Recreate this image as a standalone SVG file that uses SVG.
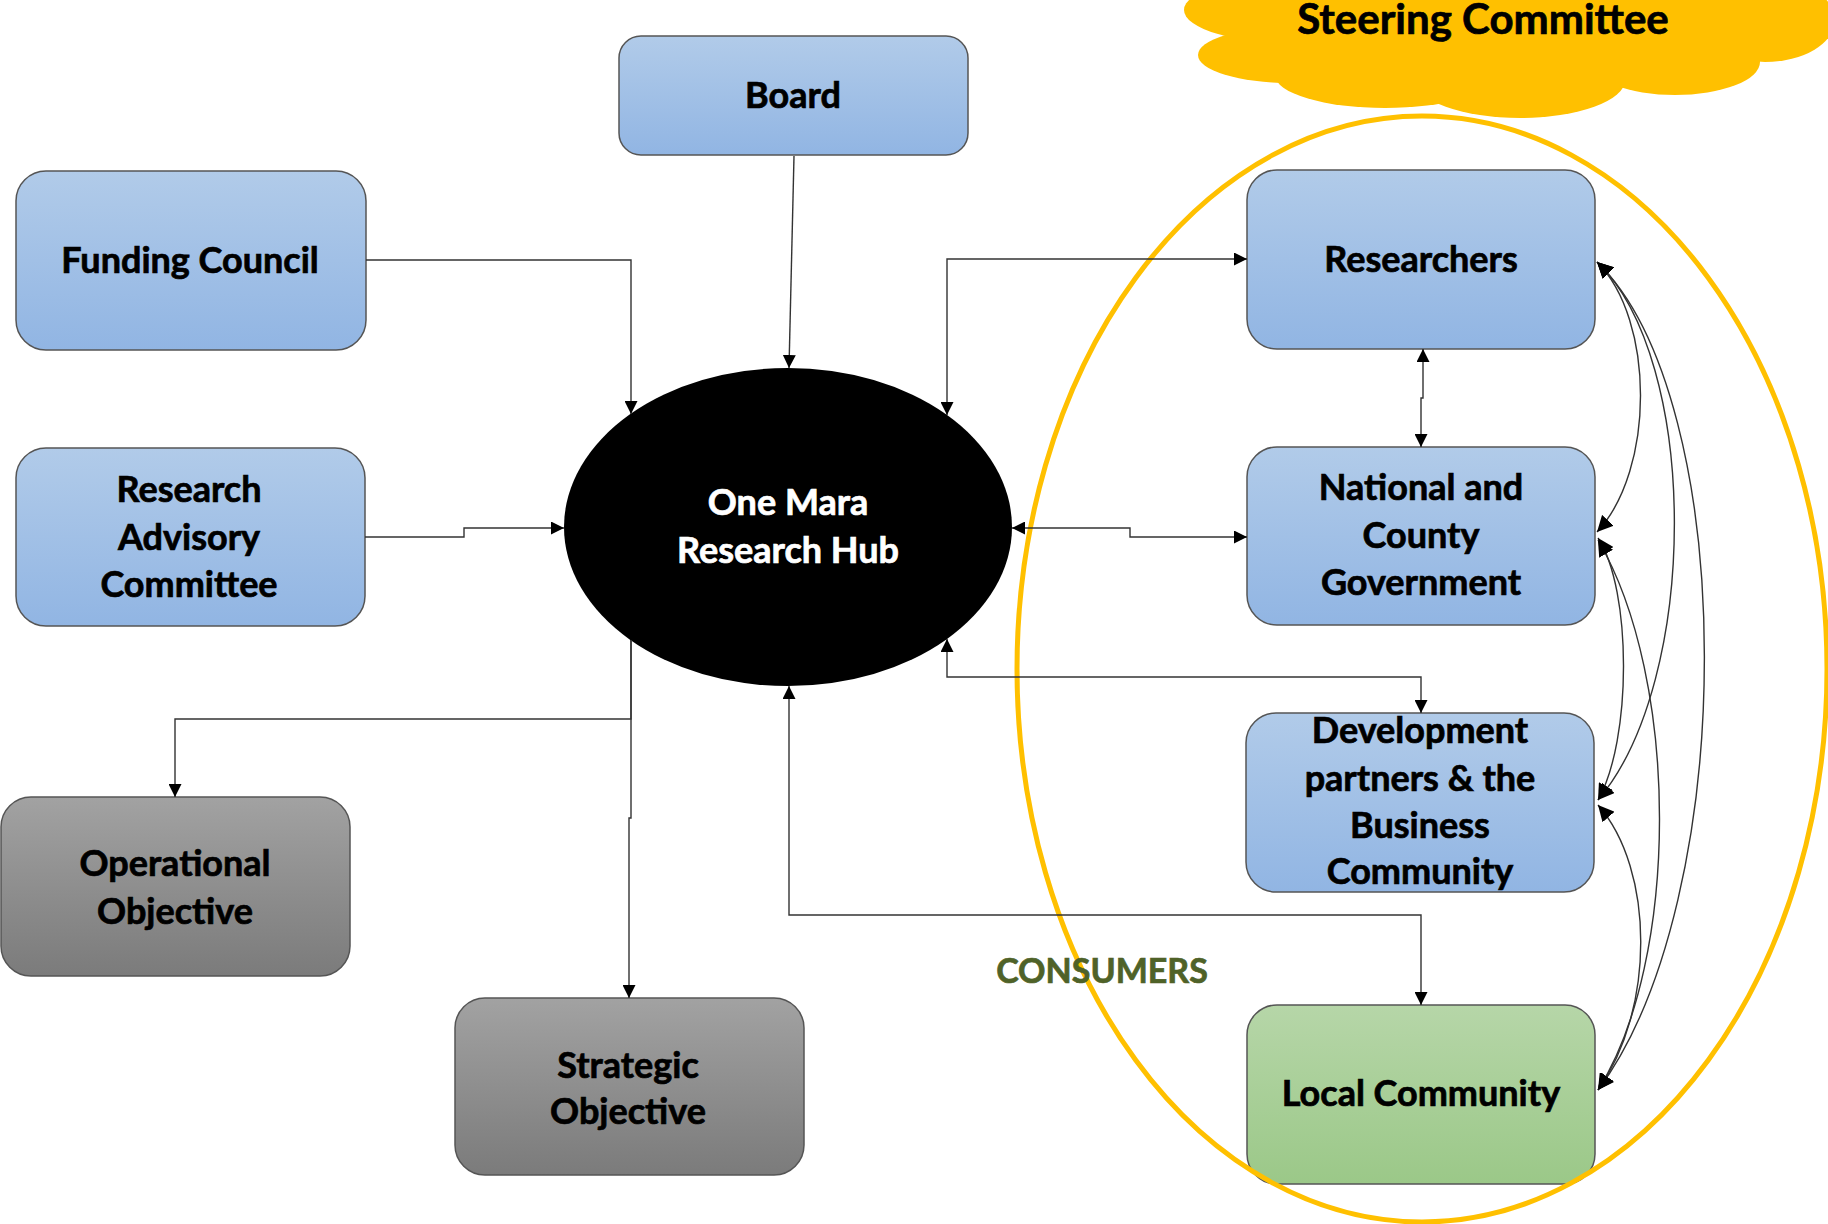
<svg xmlns="http://www.w3.org/2000/svg" width="1828" height="1224" viewBox="0 0 1828 1224">
<defs>
<linearGradient id="gBlue" x1="0" y1="0" x2="0" y2="1">
<stop offset="0" stop-color="#B1CBE9"/>
<stop offset="1" stop-color="#91B5E3"/>
</linearGradient>
<linearGradient id="gGray" x1="0" y1="0" x2="0" y2="1">
<stop offset="0" stop-color="#A2A2A2"/>
<stop offset="1" stop-color="#7B7B7B"/>
</linearGradient>
<linearGradient id="gGreen" x1="0" y1="0" x2="0" y2="1">
<stop offset="0" stop-color="#B6D6A8"/>
<stop offset="1" stop-color="#9BC888"/>
</linearGradient>
<marker id="arr" viewBox="0 0 12 12" refX="12" refY="6" markerWidth="13" markerHeight="13" markerUnits="userSpaceOnUse" orient="auto-start-reverse">
<path d="M0,0 L12,6 L0,12 z" fill="#000"/>
</marker>
<marker id="arrL" viewBox="0 0 12 12" refX="12" refY="6" markerWidth="16" markerHeight="16" markerUnits="userSpaceOnUse" orient="auto-start-reverse">
<path d="M0,0 L12,6 L0,12 z" fill="#000"/>
</marker>
<style>
.box{stroke:#555;stroke-width:1.5}
.blue{fill:url(#gBlue)}
.gray{fill:url(#gGray)}
.green{fill:url(#gGreen)}
.lbl{font-family:Lato,"Open Sans","Liberation Sans",sans-serif;font-weight:700;font-size:36px;text-anchor:middle;fill:#000;stroke:#000;stroke-width:0.7}
.white{fill:#fff;stroke:#fff}
.con{fill:none;stroke:#333;stroke-width:1.4}
.cloud{fill:#FFC000}
</style>
</defs>
<rect width="1828" height="1224" fill="#fff"/>

<g id="steering-committee">
<g class="cloud">
<ellipse cx="1300" cy="10" rx="116" ry="34"/>
<ellipse cx="1290" cy="55" rx="92" ry="28"/>
<ellipse cx="1385" cy="75" rx="110" ry="33"/>
<ellipse cx="1520" cy="80" rx="105" ry="38"/>
<ellipse cx="1675" cy="62" rx="85" ry="33"/>
<ellipse cx="1765" cy="20" rx="70" ry="42"/>
<ellipse cx="1500" cy="20" rx="280" ry="60"/>
</g>
<text class="lbl" x="1483" y="34" style="font-size:42px">Steering Committee</text>
</g>

<g id="board">
<rect class="box blue" x="619" y="36" width="349" height="119" rx="22"/>
<text class="lbl" x="793" y="108">Board</text>
</g>

<g id="funding-council">
<rect class="box blue" x="16" y="171" width="350" height="179" rx="30"/>
<text class="lbl" x="190" y="273">Funding Council</text>
</g>

<g id="research-advisory-committee">
<rect class="box blue" x="16" y="448" width="349" height="178" rx="30"/>
<text class="lbl" x="189" y="502">Research</text>
<text class="lbl" x="189" y="550">Advisory</text>
<text class="lbl" x="189" y="597">Committee</text>
</g>

<g id="operational-objective">
<rect class="box gray" x="1" y="797" width="349" height="179" rx="30"/>
<text class="lbl" x="175" y="876">Operational</text>
<text class="lbl" x="175" y="924">Objective</text>
</g>

<g id="strategic-objective">
<rect class="box gray" x="455" y="998" width="349" height="177" rx="30"/>
<text class="lbl" x="628" y="1078">Strategic</text>
<text class="lbl" x="628" y="1124">Objective</text>
</g>

<g id="one-mara-research-hub">
<ellipse cx="788" cy="527" rx="224" ry="159" fill="#000"/>
<text class="lbl white" x="788" y="515">One Mara</text>
<text class="lbl white" x="788" y="563">Research Hub</text>
</g>

<g id="researchers">
<rect class="box blue" x="1247" y="170" width="348" height="179" rx="30"/>
<text class="lbl" x="1421" y="272">Researchers</text>
</g>

<g id="national-county-government">
<rect class="box blue" x="1247" y="447" width="348" height="178" rx="30"/>
<text class="lbl" x="1421" y="500">National and</text>
<text class="lbl" x="1421" y="548">County</text>
<text class="lbl" x="1421" y="595">Government</text>
</g>

<g id="development-partners">
<rect class="box blue" x="1246" y="713" width="348" height="179" rx="30"/>
<text class="lbl" x="1420" y="743">Development</text>
<text class="lbl" x="1420" y="791">partners &amp; the</text>
<text class="lbl" x="1420" y="838">Business</text>
<text class="lbl" x="1420" y="884">Community</text>
</g>

<g id="local-community">
<rect class="box green" x="1247" y="1005" width="348" height="179" rx="30"/>
<text class="lbl" x="1421" y="1106">Local Community</text>
</g>

<g id="consumers">
<ellipse cx="1422" cy="669" rx="405" ry="553" fill="none" stroke="#FFC000" stroke-width="5"/>
<text class="lbl" x="1102" y="983" style="font-size:34px;fill:#4F6228;stroke:#4F6228">CONSUMERS</text>
</g>

<g id="connectors">
<path class="con" d="M794,156 L789,368" marker-end="url(#arr)"/>
<path class="con" d="M366,260 H631 V414" marker-end="url(#arr)"/>
<path class="con" d="M365,537 H464 V528 H564" marker-end="url(#arr)"/>
<path class="con" d="M631,640 V719 H175 V797" marker-end="url(#arr)"/>
<path class="con" d="M631,640 V818 H629 V998" marker-end="url(#arr)"/>
<path class="con" d="M947,415 V259 H1247" marker-start="url(#arr)" marker-end="url(#arr)"/>
<path class="con" d="M1012,528 H1130 V537 H1247" marker-start="url(#arr)" marker-end="url(#arr)"/>
<path class="con" d="M947,639 V677 H1421 V713" marker-start="url(#arr)" marker-end="url(#arr)"/>
<path class="con" d="M789,686 V915 H1421 V1005" marker-start="url(#arr)" marker-end="url(#arr)"/>
<path class="con" d="M1423,349 V398 H1421 V447" marker-start="url(#arr)" marker-end="url(#arr)"/>
<path class="con" d="M1597,262 C1655,320 1655,470 1597,532" marker-start="url(#arrL)" marker-end="url(#arrL)"/>
<path class="con" d="M1597,262 C1700,360 1700,680 1598,800" marker-start="url(#arrL)" marker-end="url(#arrL)"/>
<path class="con" d="M1597,262 C1740,400 1740,900 1598,1090" marker-start="url(#arrL)" marker-end="url(#arrL)"/>
<path class="con" d="M1598,538 C1632,590 1632,740 1598,800" marker-start="url(#arrL)" marker-end="url(#arrL)"/>
<path class="con" d="M1598,540 C1680,680 1680,960 1598,1090" marker-start="url(#arrL)" marker-end="url(#arrL)"/>
<path class="con" d="M1598,805 C1655,870 1655,1010 1598,1090" marker-start="url(#arrL)" marker-end="url(#arrL)"/>
</g>
</svg>
